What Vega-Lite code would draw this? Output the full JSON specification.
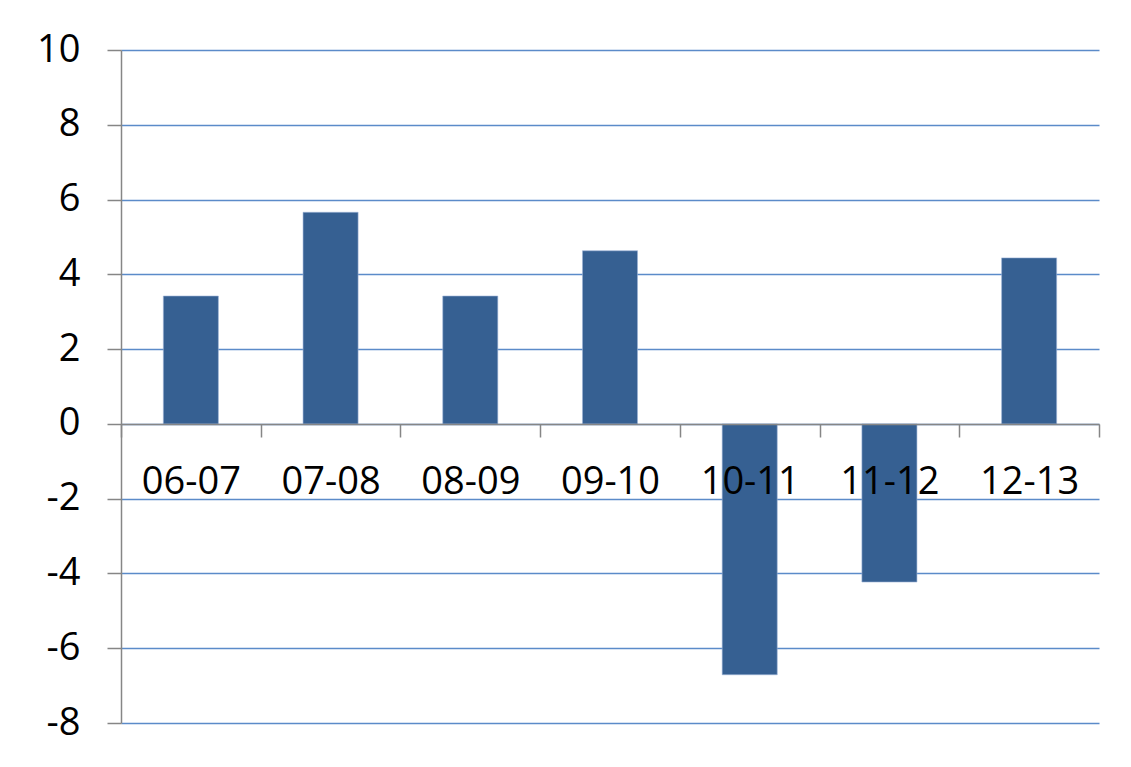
{
  "$schema": "https://vega.github.io/schema/vega-lite/v6.json",
  "width": 978,
  "height": 673,
  "autosize": {"type": "none"},
  "padding": {"left": 121, "top": 50, "right": 32, "bottom": 44},
  "background": "white",
  "data": {
    "values": [
      {"period": "06-07", "value": 3.42},
      {"period": "07-08", "value": 5.66},
      {"period": "08-09", "value": 3.42},
      {"period": "09-10", "value": 4.63},
      {"period": "10-11", "value": -6.71},
      {"period": "11-12", "value": -4.23},
      {"period": "12-13", "value": 4.44}
    ]
  },
  "mark": {"type": "bar", "color": "#366092", "stroke": "#9db4d6", "strokeWidth": 0.6, "width": {"band": 0.394}},
  "encoding": {
    "x": {
      "field": "period",
      "type": "ordinal",
      "sort": null,
      "scale": {"paddingInner": 0, "paddingOuter": 0},
      "axis": {
        "title": null,
        "orient": "bottom",
        "offset": -299,
        "zindex": 1,
        "labelAngle": 0,
        "labelFont": "Open Sans",
        "labelFontSize": 38,
        "labelColor": "#000000",
        "labelBaseline": "alphabetic",
        "labelPadding": 56,
        "tickBand": "extent",
        "tickSize": 13,
        "tickColor": "#868686",
        "tickWidth": 1.5,
        "domainColor": "#868686",
        "domainWidth": 1.5,
        "grid": false
      }
    },
    "y": {
      "field": "value",
      "type": "quantitative",
      "scale": {"domain": [-8, 10], "nice": false, "zero": false},
      "axis": {
        "title": null,
        "values": [-8, -6, -4, -2, 0, 2, 4, 6, 8, 10],
        "labelExpr": "'' + datum.value",
        "zindex": 0,
        "labelFont": "Open Sans",
        "labelFontSize": 38,
        "labelColor": "#000000",
        "labelPadding": 27,
        "tickSize": 14,
        "tickColor": "#868686",
        "tickWidth": 1.5,
        "domainColor": "#868686",
        "domainWidth": 1.5,
        "grid": true,
        "gridColor": "#5b8bc9",
        "gridWidth": 1.5
      }
    }
  },
  "config": {
    "view": {"stroke": null}
  }
}
